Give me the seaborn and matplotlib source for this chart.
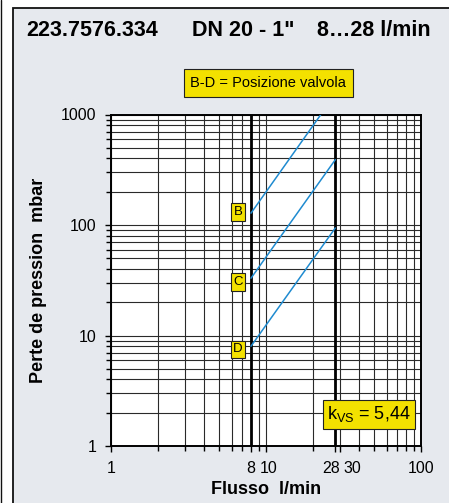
import pandas as pd
import seaborn as sns
import matplotlib.pyplot as plt
import matplotlib.transforms as mtransforms
from matplotlib.patches import Rectangle
from matplotlib.lines import Line2D

# valve positions and their pressure-drop lines (end points)
positions = ["B", "C", "D"]
flow_start = [8, 8, 8]
flow_end = [22.6, 28, 28]
dp_start = [128, 33, 8.0]
dp_end = [1000, 390, 94]

# label boxes for each position
label_flow = [6.6, 6.6, 6.6]
label_dp = [131, 30.5, 7.5]

flow_range = [8, 28]
x_ticks = [1, 8, 10, 28, 30, 100]
x_ticklabels = ["1", "8", "10", "28", "30", "100"]
y_ticks = [1, 10, 100, 1000]
y_ticklabels = ["1", "10", "100", "1000"]

rows = []
for p, q0, q1, d0, d1 in zip(positions, flow_start, flow_end, dp_start, dp_end):
    rows.append({"pos": p, "flow": q0, "dp": d0})
    rows.append({"pos": p, "flow": q1, "dp": d1})
df = pd.DataFrame(rows)

sns.set_style("white")
plt.rcParams["font.family"] = ["Liberation Sans", "DejaVu Sans"]
plt.rcParams["text.color"] = "black"
plt.rcParams["axes.labelcolor"] = "black"
plt.rcParams["xtick.color"] = "black"
plt.rcParams["ytick.color"] = "black"

bg = "#e6e9ee"
yellow = "#f3e100"
blue = "#1f8bd0"

fig = plt.figure(figsize=(4.49, 5.03), dpi=100)
fig.patch.set_facecolor("white")

# panel behind everything
W, H = 449, 503
fig.patches.append(Rectangle((12.5 / W, -0.01), 1.0, (H - 7.5) / H + 0.01,
                             transform=fig.transFigure, facecolor=bg,
                             edgecolor="#111111", linewidth=1.3, zorder=-10))
fig.lines.append(Line2D([0.8 / W, 0.8 / W], [0, 1], transform=fig.transFigure,
                        color="#111111", linewidth=1.0, zorder=-10))

ax = fig.add_axes([111 / W, 57 / H, 310 / W, 331.5 / H])
ax.set_facecolor("white")

sns.lineplot(data=df, x="flow", y="dp", hue="pos", units="pos", estimator=None,
             palette={p: blue for p in positions}, legend=False, linewidth=1.1,
             ax=ax, zorder=5)

ax.set_xscale("log")
ax.set_yscale("log")
ax.set_xlim(1, 100)
ax.set_ylim(1, 1000)

minor_x = [v for v in list(range(2, 10)) + list(range(20, 100, 10)) if v not in x_ticks]
ax.set_xticks(x_ticks, labels=x_ticklabels)
ax.set_xticks(minor_x, minor=True)
ax.xaxis.set_minor_formatter(plt.NullFormatter())
ax.set_yticks(y_ticks, labels=y_ticklabels)
ax.yaxis.set_minor_formatter(plt.NullFormatter())

ax.grid(which="both", color="#2a2a2a", linewidth=0.8)
for q in flow_range:
    ax.axvline(q, color="black", linewidth=2.0, zorder=3)

ax.tick_params(which="both", direction="out", color="black", width=1.0,
               labelsize=11.5, labelcolor="black")
ax.tick_params(which="major", length=4.5, pad=6)
ax.tick_params(which="minor", length=3.5)
ax.tick_params(axis="x", which="both", bottom=True)
ax.tick_params(axis="y", which="both", left=True)
for s in ax.spines.values():
    s.set_color("black")
    s.set_linewidth(1.4)

# nudge crowded tick labels apart, as in the original
shifts = {"10": 3, "28": -4, "30": 12}
for lab in ax.get_xticklabels():
    dx = shifts.get(lab.get_text(), 0)
    if dx:
        lab.set_transform(lab.get_transform() +
                          mtransforms.ScaledTranslation(dx / 100, 0, fig.dpi_scale_trans))

ax.set_xlabel("Flusso  l/min", fontsize=13, fontweight="bold", labelpad=4)
ax.set_ylabel("Perte de pression  mbar", fontsize=13, fontweight="bold", labelpad=10)

for p, q, d in zip(positions, label_flow, label_dp):
    ax.text(q, d, p, ha="center", va="center", fontsize=9.5, zorder=6,
            bbox=dict(boxstyle="square,pad=0.2", facecolor=yellow,
                      edgecolor="#222222", linewidth=0.8))

ax.text(0.967, 0.096, r"$\mathregular{k_{VS}}$ = 5,44", transform=ax.transAxes,
        ha="right", va="center", fontsize=13, zorder=6,
        bbox=dict(boxstyle="square,pad=0.25", facecolor=yellow,
                  edgecolor="#222222", linewidth=0.8))

# title parts
ty = 1 - 36 / H
fig.text(26 / W, ty, "223.7576.334", fontsize=15.5, fontweight="bold", va="baseline")
fig.text(192 / W, ty, 'DN 20 - 1"', fontsize=15.5, fontweight="bold", va="baseline")
fig.text(317 / W, ty, "8…28 l/min", fontsize=15.5, fontweight="bold", va="baseline")

fig.text(268 / W, 1 - 83 / H, "B-D = Posizione valvola", fontsize=10.5,
         ha="center", va="center",
         bbox=dict(boxstyle="square,pad=0.45", facecolor=yellow,
                   edgecolor="#222222", linewidth=0.8))

fig.savefig("out.png", dpi=100)
